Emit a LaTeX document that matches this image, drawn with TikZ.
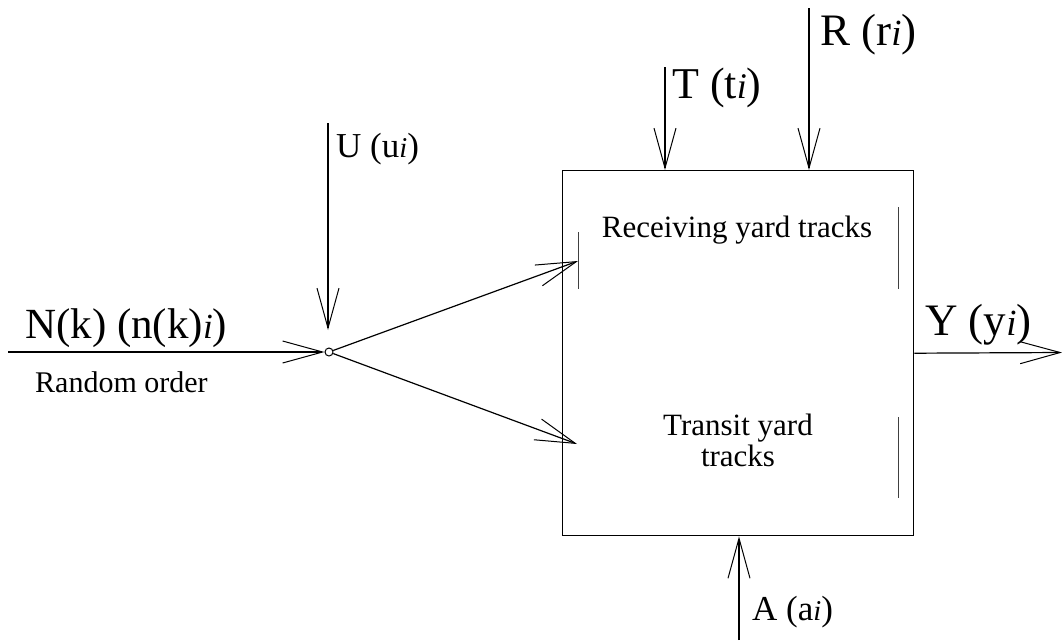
\documentclass[tikz,border=0pt]{standalone}
\usepackage{fontspec}
\setmainfont{Liberation Serif}
\usetikzlibrary{arrows.meta}
\newcommand{\subi}{{\itshape\fontsize{0.82em}{1em}\selectfont i}}
\begin{document}
\begin{tikzpicture}[x=1pt,y=-1pt,
  ln/.style={line width=1.2pt},
  barb/.style={ln,-{Straight Barb[length=40pt,width=22pt,line width=1pt]}},
  bar/.style={line width=1pt,black!75},
  big/.style={font=\fontsize{45}{50}\selectfont,inner sep=0pt},
  mid/.style={font=\fontsize{35}{40}\selectfont,inner sep=0pt},
  small/.style={font=\fontsize{31}{31}\selectfont,inner sep=0pt}]
\useasboundingbox (0,0) rectangle (1062,640);
% system box
\node[draw,line width=1.4pt,minimum width=351pt,minimum height=365pt,inner sep=0pt,anchor=north west] (box) at (562,170) {};
% junction
\node[circle,draw,line width=1pt,minimum size=8pt,inner sep=0pt] (j) at (329,352) {};
% input
\coordinate (in) at (8,352);
\draw[barb] (in) -- (j);
\node[big,font=\fontsize{43}{48}\selectfont,anchor=base west] (nlbl) at (25,338) {N(k) (n(k)\subi)};
\node[small,font=\fontsize{30}{30}\selectfont,anchor=base west] (rnd) at (35,392) {Random order};
% control U
\coordinate (u0) at (328,123);
\coordinate (u1) at (328,330);
\draw[barb] (u0) -- (u1);
\node[mid,anchor=base west] (ulbl) at (336,157) {U (u\subi)};
% branches
\coordinate (rcv) at (578,261);
\coordinate (trn) at (577,444);
\draw[barb] (j) -- (rcv);
\draw[barb] (j) -- (trn);
% track bars
\coordinate (b1t) at (578,232); \coordinate (b1b) at (578,289);
\draw[bar] (b1t) -- (b1b);
\coordinate (b2t) at (898,207); \coordinate (b2b) at (898,289);
\draw[bar] (b2t) -- (b2b);
\coordinate (b3t) at (898,417); \coordinate (b3b) at (898,498);
\draw[bar] (b3t) -- (b3b);
\node[small,anchor=base] (rcvlbl) at (737,237) {Receiving yard tracks};
\node[small,align=center,anchor=center] (trnlbl) at (738,440) {Transit yard\\tracks};
% T and R
\coordinate (t0) at (665,67);
\draw[barb] (t0) -- (t0 |- box.north);
\node[big,font=\fontsize{44}{48}\selectfont,anchor=base west] (tlbl) at (672,98) {T (t\subi)};
\coordinate (r0) at (809,8);
\draw[barb] (r0) -- (r0 |- box.north);
\node[big,anchor=base west] (rlbl) at (820,45) {R (r\subi)};
% output Y
\coordinate (yout) at (1062,352.5);
\draw[barb] (box.east) -- (yout);
\node[big,anchor=base west] (ylbl) at (925,335) {Y (y\subi)};
% A
\coordinate (a0) at (739,640);
\draw[barb] (a0) -- (a0 |- box.south);
\node[mid,anchor=base west] (albl) at (752,620) {A (a\subi)};
\end{tikzpicture}
\end{document}
